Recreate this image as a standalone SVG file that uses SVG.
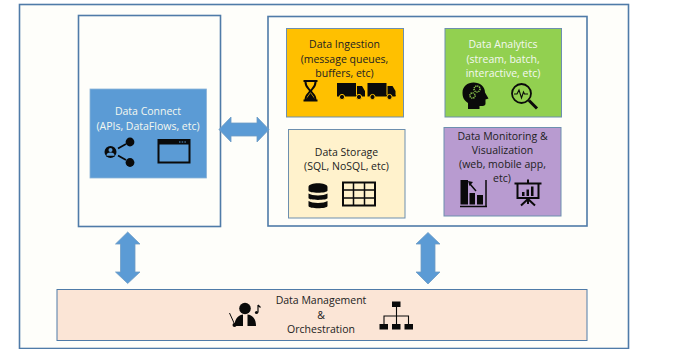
<svg xmlns="http://www.w3.org/2000/svg" width="673" height="349" viewBox="0 0 673 349">
<style>
text{font-family:"Open Sans","Noto Sans","Liberation Sans",sans-serif;font-size:10.5px;text-anchor:middle;fill:#222}
.w{fill:#f4f8f0}
.frame{fill:#fefefa;stroke:#4f7ba8;stroke-width:1.600}
.arrow{fill:#5b9bd5;stroke:#6f9cc4;stroke-width:.8}
.k{fill:#0a0a0a}
.o{fill:none;stroke:#0a0a0a}
</style>
<defs>
<g id="truck"><rect x="0" y="0" width="19" height="12" class="k"/><path class="k" d="M20 3h5l3 5v5H20z"/><rect x="0" y="12" width="28" height="1.500" class="k"/><circle cx="5" cy="14" r="2.600" class="k" stroke="#ffc000"/><circle cx="22" cy="14" r="2.600" class="k" stroke="#ffc000"/></g>
</defs>
<rect x="0" y="0" width="673" height="349" fill="#fff"/>
<rect id="outer-frame" x="19.500" y="4.500" width="609" height="344" class="frame"/>
<g id="connect-frame"><rect x="78.500" y="15.500" width="142" height="211" class="frame"/></g>
<g id="platform-frame"><rect x="268" y="16.500" width="319" height="209.500" class="frame"/></g>
<g id="connectors">
<path class="arrow" d="M219 129.500L231 117V123H257V117L269 129.500L257 142V136H231V142Z"/>
<path class="arrow" d="M127.700 232L140 244H135V272H140L127.700 283.500L115.500 272H120.500V244H115.500Z"/>
<path class="arrow" d="M428 232.500L440 244H435V272H440L428 284L416 272H421V244H416Z"/>
</g>
<g id="data-connect">
<rect x="90" y="89" width="116.500" height="89" fill="#5b9bd5" stroke="#8db4d8" stroke-width=".8"/>
<text class="w" x="148" y="115">Data Connect</text>
<text class="w" x="148" y="130">(APIs, DataFlows, etc)</text>
<circle cx="110.500" cy="152" r="6" class="k"/><circle cx="110.500" cy="150" r="2" fill="#5b9bd5"/><path d="M106.500 155.800a4 3.200 0 0 1 8 0z" fill="#5b9bd5"/>
<circle cx="130" cy="142" r="4.400" class="k"/><circle cx="130" cy="162.500" r="4.400" class="k"/>
<path class="o" stroke-width="1.800" d="M118 148.500l8-4.500M118 155.500l8 4.500"/>
<rect x="158.500" y="140" width="31" height="22.500" fill="#5b9bd5" stroke="#0a0a0a" stroke-width="2"/>
<rect x="158.500" y="140" width="31" height="4.500" class="k"/>
<path d="M179 142h7" stroke="#5b9bd5" stroke-dasharray="1.500 1.200"/>
</g>
<g id="data-ingestion">
<rect x="286.500" y="28.500" width="117" height="88.500" fill="#ffc000" stroke="#6d8fae" stroke-width="1"/>
<text x="344.500" y="48">Data Ingestion</text>
<text x="344.500" y="62.500">(message queues,</text>
<text x="344.500" y="76.500">buffers, etc)</text>
<path class="o" stroke-width="2" d="M303.500 81h14M303.500 100.500h14M305.500 82c0 6 4.500 7 4.500 9s-4.500 3-4.500 9M315.500 82c0 6-4.500 7-4.500 9s4.500 3 4.500 9"/>
<path class="k" d="M305.500 100l5-7 5 7z"/>
<use href="#truck" x="337" y="83"/>
<use href="#truck" x="367.500" y="83"/>
</g>
<g id="data-analytics">
<rect x="445" y="28.500" width="116.500" height="88.500" fill="#92d050" stroke="#6d8fae" stroke-width="1"/>
<text class="w" x="503" y="48">Data Analytics</text>
<text class="w" x="503" y="62.500">(stream, batch,</text>
<text class="w" x="503" y="76.500">interactive, etc)</text>
<path class="k" d="M468 109v-6c-5-3-5.500-7-5.500-10.500 0-6 5-10 11-10 6.500 0 11.500 4 11.500 10l3.500 6-3 1v4c0 1.500-1 2.500-3 2.500h-3v3z"/>
<circle cx="477" cy="89" r="3" fill="none" stroke="#92d050" stroke-width="1.500" stroke-dasharray="1.200 .8"/>
<circle cx="472.500" cy="95.500" r="2.600" fill="none" stroke="#92d050" stroke-width="1.500" stroke-dasharray="1.200 .8"/>
<circle cx="521.500" cy="93.500" r="9.500" fill="none" stroke="#0a0a0a" stroke-width="1.800"/>
<path class="o" stroke-width="3" d="M529 100.500l8 8"/>
<path class="o" stroke-width="1.100" d="M514 94h3l2-4 2.500 8 2-6 1 2h3.500"/>
</g>
<g id="data-storage">
<rect x="288.500" y="129.500" width="116.500" height="88.500" fill="#fff2cc" stroke="#6d8fae" stroke-width="1"/>
<text x="346.500" y="156">Data Storage</text>
<text x="346.500" y="170">(SQL, NoSQL, etc)</text>
<path class="k" d="M308.500 187c0-5 19-5 19 0v3.500c0 3-19 3-19 0zM308.500 193.500c3.500 2.500 15.500 2.500 19 0v4.500c0 2.500-19 2.500-19 0zM308.500 201c3.500 2.500 15.500 2.500 19 0v5c0 3-19 3-19 0z"/>
<rect x="343" y="182.500" width="32" height="23" fill="none" stroke="#0a0a0a" stroke-width="2"/>
<path class="o" stroke-width="1.500" d="M343 190h32M343 198h32M353.500 182.500v23M364.500 182.500v23"/>
</g>
<g id="data-monitoring">
<rect x="444" y="127.500" width="117" height="88.500" fill="#b89bd0" stroke="#6d8fae" stroke-width="1"/>
<text x="502.500" y="140">Data Monitoring &amp;</text>
<text x="502.500" y="154">Visualization</text>
<text x="502.500" y="168">(web, mobile app,</text>
<text x="502" y="182">etc)</text>
<rect x="460.500" y="180" width="7.500" height="24.500" class="k"/>
<rect x="469.500" y="193" width="5.500" height="11.500" class="k"/>
<rect x="477" y="195" width="6" height="9.500" class="k"/>
<path class="o" stroke-width="1.500" d="M460 206.500h27M486 180v26.500M476 191l-6-7"/>
<path class="k" d="M468 181l5 1-3.500 4z"/>
<path class="o" stroke-width="2" d="M514.500 183.500h27M517.500 184v14h21V184M528 179.500v4M528 198v6M528 199l-7 6.500M528 199l7 6.500"/>
<rect x="522" y="192" width="2.500" height="4" class="k"/><rect x="526.500" y="189.500" width="2.500" height="6.500" class="k"/><rect x="531" y="186.500" width="2.500" height="9.500" class="k"/>
</g>
<g id="data-management">
<rect x="57" y="289.500" width="530" height="51" fill="#fbe5d6" stroke="#4f7ba8" stroke-width="1"/>
<text x="321" y="304">Data Management</text>
<text x="321" y="319">&amp;</text>
<text x="321" y="333">Orchestration</text>
<circle cx="245" cy="308.500" r="5.800" class="k"/>
<path class="k" d="M234.500 326c0-5 2-10.500 8.500-11.500v11.500zM247.500 314.500c5 .5 8.500 4 8.500 11.500h-8.500z"/>
<path class="o" stroke-width="1" d="M229.500 313l5 11"/><circle cx="234.500" cy="325" r="2" class="k"/>
<path class="o" stroke-width="1.200" d="M258 305v7.500M258 305l2.500 2.500"/><circle cx="256.500" cy="312.500" r="1.600" class="k"/>
<rect x="392" y="301.500" width="8.500" height="5.500" class="k"/>
<rect x="379.500" y="324" width="8.500" height="5.500" class="k"/><rect x="392" y="324" width="8.500" height="5.500" class="k"/><rect x="404.500" y="324" width="8.500" height="5.500" class="k"/>
<path class="o" stroke-width="1.100" d="M396.500 307v17M384 324v-8h24.500v8"/>
</g>
</svg>
